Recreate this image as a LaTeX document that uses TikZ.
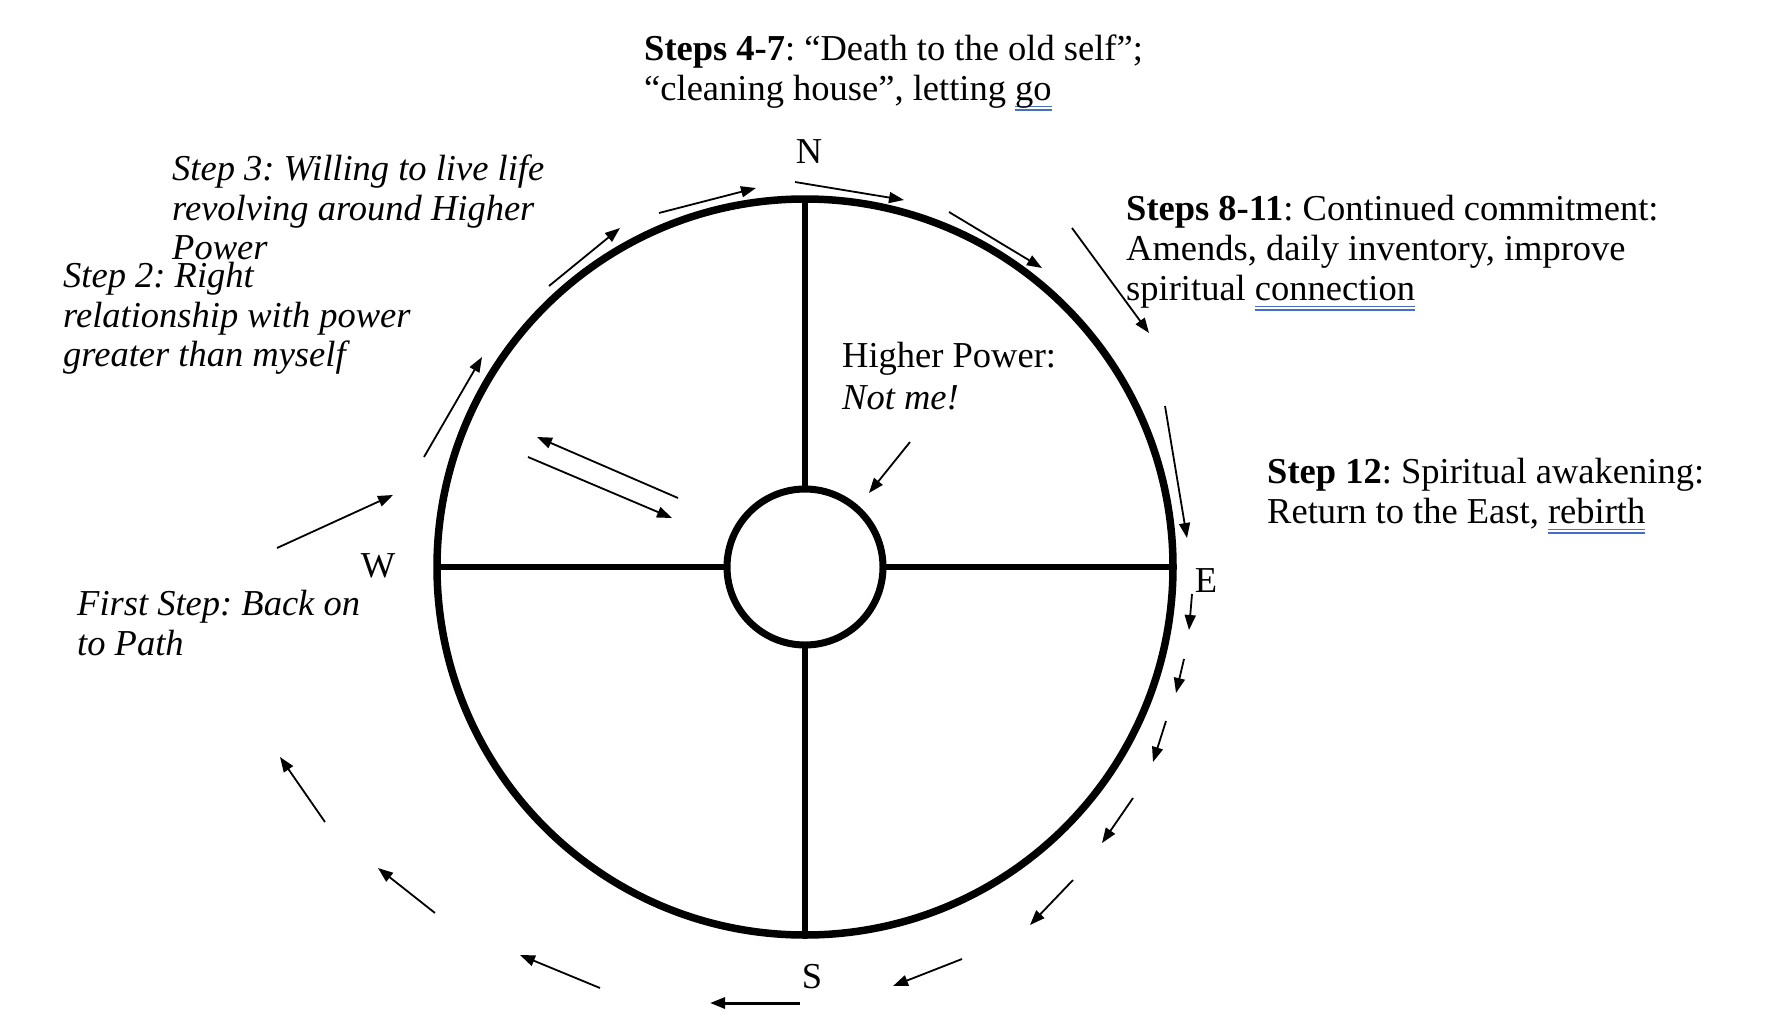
\documentclass[tikz,border=0pt]{standalone}
\usepackage{fontspec}
\setmainfont{Liberation Serif}
\usetikzlibrary{arrows.meta}
\definecolor{ulblue}{RGB}{70,110,200}
\newsavebox\ulbox
\newcommand{\dul}[1]{\sbox\ulbox{#1}\rlap{\color{ulblue}\rule[-7pt]{\wd\ulbox}{1.4pt}}\rlap{\color{ulblue}\rule[-10.5pt]{\wd\ulbox}{1.4pt}}\usebox\ulbox}
\frenchspacing
\begin{document}
\begin{tikzpicture}[x=1pt,y=-1pt,
  txt/.style={inner sep=0pt, anchor=base west, font=\fontsize{36.5}{41}\selectfont},
  itxt/.style={txt, font=\fontsize{36.5}{41}\selectfont\itshape},
  lbl/.style={inner sep=0pt, anchor=base, font=\fontsize{36.5}{41}\selectfont},
  arr/.style={line width=1.8pt, -{Triangle[length=15pt,width=11pt]}},
  rim/.style={circle, draw, line width=7.5pt, inner sep=0pt, outer sep=0pt},
  spoke/.style={line width=5.5pt}]
\useasboundingbox[fill=white] (0,0) rectangle (1774,1020);

% wheel
\node[rim, minimum size=736pt] (wheel) at (805,567) {};
\node[rim, line width=7pt, minimum size=156pt] (hub) at (805,567) {};
\draw[spoke] (wheel.north) -- (hub.north);
\draw[spoke] (hub.south) -- (wheel.south);
\draw[spoke] (wheel.west) -- (hub.west);
\draw[spoke] (hub.east) -- (wheel.east);

% compass labels
\node[lbl] (labN) at (809,163) {N};
\node[lbl] (labW) at (378,577) {W};
\node[lbl] (labE) at (1206,592) {E};
\node[lbl] (labS) at (812,988) {S};

% texts
\node[txt] (s47a) at (644,60) {\textbf{Steps 4-7}: “Death to the old self”;};
\node[txt] (s47b) at (644,100) {“cleaning house”, letting \dul{go}};
\node[itxt] (s3a) at (172,180) {Step 3: Willing to live life};
\node[itxt] (s3b) at (172,220) {revolving around Higher};
\node[itxt] (s3c) at (172,259) {Power};
\node[itxt] (s2a) at (63,287) {Step 2: Right};
\node[itxt] (s2b) at (63,327) {relationship with power};
\node[itxt] (s2c) at (63,366) {greater than myself};
\node[txt] (s811a) at (1126,220) {\textbf{Steps 8-11}: Continued commitment:};
\node[txt] (s811b) at (1126,260) {Amends, daily inventory, improve};
\node[txt] (s811c) at (1126,300) {spiritual \dul{connection}};
\node[txt] (hpa) at (842,367) {Higher Power:};
\node[itxt] (hpb) at (842,409) {Not me!};
\node[txt] (s12a) at (1267,483) {\textbf{Step 12}: Spiritual awakening:};
\node[txt] (s12b) at (1267,523) {Return to the East, \dul{rebirth}};
\node[itxt] (fsa) at (77,615) {First Step: Back on};
\node[itxt] (fsb) at (77,655) {to Path};

% arrows around the wheel
\foreach \n/\xa/\ya/\xb/\yb in {
  1/277/548/393/495, 2/424/457/482/357, 3/549/286/620/228,
  4/659/213/756/188, 5/795/182/904/200, 6/949/212/1042/268,
  7/1072/228/1149/333, 8/1165/406/1187/538, 9/1192/594/1189/630,
  10/1184/659/1176/693, 11/1166/721/1153/762, 12/1133/798/1102/843,
  13/1073/880/1030/925, 14/962/959/893/986, 16/600/988/520/955,
  17/435/913/378/868, 18/325/822/280/757, b1/678/498/537/437,
  b2/528/457/672/518, c/910/442/869/493}{
  \coordinate (a\n s) at (\xa,\ya);
  \coordinate (a\n e) at (\xb,\yb);
  \draw[arr] (a\n s) -- (a\n e);
}
\coordinate (a15s) at (800,1003);
\coordinate (a15e) at (710,1003);
\draw[arr, line width=3pt] (a15s) -- (a15e);
\end{tikzpicture}
\end{document}
